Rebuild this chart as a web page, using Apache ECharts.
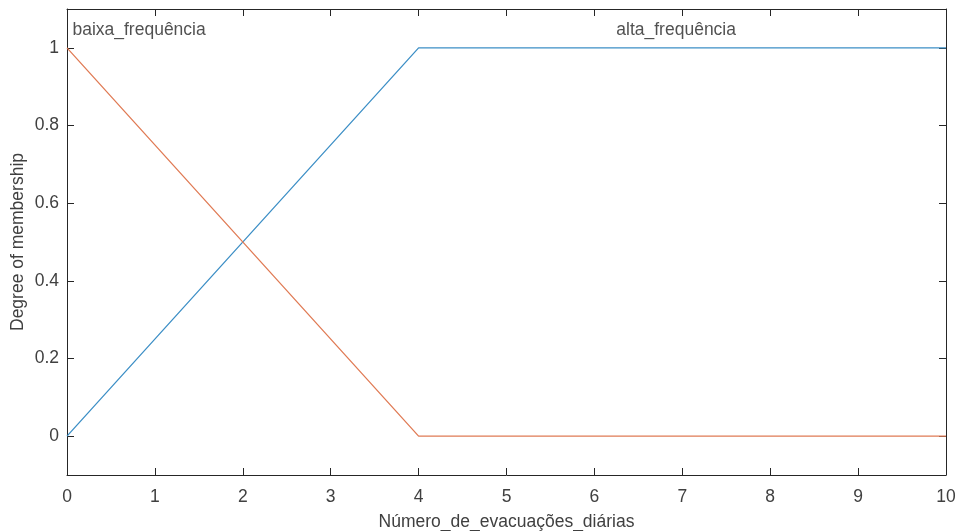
<!DOCTYPE html>
<html>
<head>
<meta charset="utf-8">
<script src="https://cdn.jsdelivr.net/npm/echarts@6/dist/echarts.min.js"></script>
<style>html,body{margin:0;padding:0;background:#fff}#c{width:958px;height:531px}</style>
</head>
<body>
<div id="c"></div>
<script>
// Data
const xTicks = [0,1,2,3,4,5,6,7,8,9,10];
const yTicks = [0,0.2,0.4,0.6,0.8,1];
const mfNames = ['baixa_frequência', 'alta_frequência'];
const baixaX = [0, 4, 10];
const baixaY = [1, 0, 0];
const altaX = [0, 4, 10];
const altaY = [0, 1, 1];
const labelX = [0.82, 6.93];
const labelY = [1.045, 1.045];
const xTitle = 'Número_de_evacuações_diárias';
const yTitle = 'Degree of membership';

const font = 'Liberation Sans, Arial, sans-serif';
const axisCol = '#262626';
const txtCol = '#404040';
const fs = 17.5;

const chart = echarts.init(document.getElementById('c'), null, {renderer:'canvas'});
const baseX = {
  type:'value', min:0, max:10, interval:1,
  axisLine:{show:true, onZero:false, lineStyle:{color:axisCol, width:1}},
  axisTick:{show:true, inside:true, length:7, lineStyle:{color:axisCol}},
  splitLine:{show:false}
};
const baseY = {
  type:'value', min:-0.1, max:1.1,
  axisLine:{show:true, onZero:false, lineStyle:{color:axisCol, width:1}},
  axisTick:{show:true, inside:true, length:7, lineStyle:{color:axisCol},
    customValues: yTicks},
  axisLabel:{customValues: yTicks},
  splitLine:{show:false}
};
chart.setOption({
  animation:false,
  grid:{left:67, right:12, top:9, bottom:56, containLabel:false, outerBoundsMode:'none'},
  xAxis:[
    Object.assign({}, baseX, {
      position:'bottom',
      name:xTitle, nameLocation:'middle', nameGap:38, nameMoveOverlap:false,
      nameTextStyle:{fontFamily:font, fontSize:fs, color:txtCol},
      axisLabel:{fontFamily:font, fontSize:fs, color:txtCol, margin:13}
    }),
    Object.assign({}, baseX, {
      position:'top', axisLabel:{show:false}
    })
  ],
  yAxis:[
    Object.assign({}, baseY, {
      position:'left',
      name:yTitle, nameLocation:'middle', nameGap:40, nameRotate:90, nameMoveOverlap:false,
      nameTextStyle:{fontFamily:font, fontSize:fs, color:txtCol},
      axisLabel:{fontFamily:font, fontSize:fs, color:txtCol, margin:8, customValues:yTicks,
        formatter: v => String(Math.round(v*10)/10)}
    }),
    Object.assign({}, baseY, {
      position:'right', axisLabel:{show:false}
    })
  ],
  series:[
    {type:'line', xAxisIndex:0, yAxisIndex:0, data: altaX.map((x,i)=>[x, altaY[i]]),
     showSymbol:false, symbol:'none', lineStyle:{color:'#3d8fc6', width:1.3}},
    {type:'line', xAxisIndex:0, yAxisIndex:0, data: baixaX.map((x,i)=>[x, baixaY[i]]),
     showSymbol:false, symbol:'none', lineStyle:{color:'#e07b55', width:1.3}},
    {type:'scatter', xAxisIndex:0, yAxisIndex:0, symbolSize:0, silent:true,
     data: mfNames.map((n,i)=>({value:[labelX[i], labelY[i]], name:n})),
     label:{show:true, position:'inside', formatter: p => p.name,
       fontFamily:font, fontSize:fs, color:'#262626'}}
  ]
});
</script>
</body>
</html>
